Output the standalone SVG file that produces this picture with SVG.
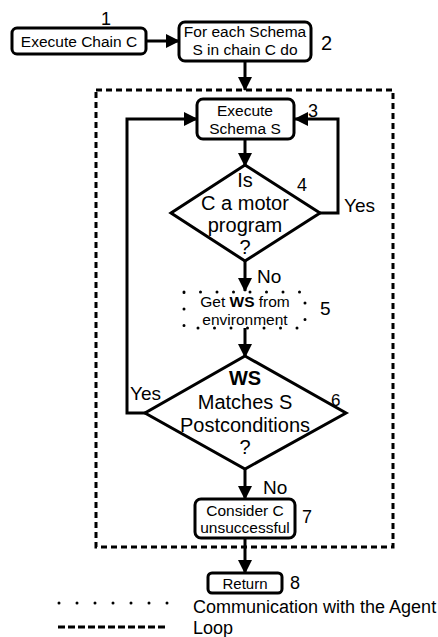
<svg xmlns="http://www.w3.org/2000/svg" width="438" height="637" viewBox="0 0 438 637">
  <defs>
    <marker id="arrow" markerUnits="userSpaceOnUse" markerWidth="14" markerHeight="14" viewBox="0 0 14 14" refX="13" refY="7" orient="auto">
      <path d="M0,0 L14,7 L0,14 Z" fill="#000"/>
    </marker>
    <style>
      text { font-family: "Liberation Sans", Arial, sans-serif; fill: #000; }
      .box { fill: #fff; stroke: #000; stroke-width: 3; }
      .dia { fill: #fff; stroke: #000; stroke-width: 3; stroke-linejoin: miter; }
      .edge { fill: none; stroke: #000; stroke-width: 3; }
      .arr { marker-end: url(#arrow); }
      .loop { fill: none; stroke: #000; stroke-width: 3; stroke-dasharray: 6 4; }
      .comm { fill: none; stroke: #000; stroke-width: 3; stroke-dasharray: 0 16.5; stroke-linecap: round; }
      .t15 { font-size: 15.5px; text-anchor: middle; }
      .t20 { font-size: 20px; text-anchor: middle; }
      .num { font-size: 18px; }
      .lbl { font-size: 19px; }
      .leg { font-size: 18px; }
    </style>
  </defs>

  <!-- loop region -->
  <rect id="loop-region" class="loop" x="96" y="90" width="297" height="457"/>

  <!-- connectors -->
  <g id="connectors">
    <line class="edge arr" x1="146" y1="41" x2="179" y2="41"/>
    <line class="edge arr" x1="245" y1="61" x2="245" y2="90"/>
    <line class="edge arr" x1="245" y1="139" x2="245" y2="166"/>
    <path class="edge arr" d="M320,213 H338 V119 H295"/>
    <line class="edge arr" x1="245" y1="261" x2="245" y2="291"/>
    <line class="edge arr" x1="245" y1="328" x2="245" y2="357"/>
    <path class="edge arr" d="M146,413 H127 V119 H197"/>
    <line class="edge arr" x1="245" y1="469" x2="245" y2="499"/>
    <line class="edge arr" x1="245" y1="538" x2="245" y2="573"/>
    <text class="lbl" x="344" y="212">Yes</text>
    <text class="lbl" x="257" y="283">No</text>
    <text class="lbl" x="130" y="400">Yes</text>
    <text class="lbl" x="263" y="494">No</text>
  </g>

  <!-- 1: execute chain -->
  <g id="n1">
    <rect class="box" x="12" y="28" width="134" height="26" rx="5"/>
    <text class="t15" x="79" y="47">Execute Chain C</text>
    <text class="num" x="101" y="25">1</text>
  </g>

  <!-- 2: for each schema -->
  <g id="n2">
    <rect class="box" x="179" y="22" width="132" height="39" rx="6"/>
    <text class="t15" x="245" y="37">For each Schema</text>
    <text class="t15" x="245" y="55">S in chain C do</text>
    <text class="num" x="321" y="50" style="font-size:20px">2</text>
  </g>

  <!-- 3: execute schema -->
  <g id="n3">
    <rect class="box" x="197" y="99" width="97" height="40" rx="6"/>
    <text class="t15" x="245" y="116">Execute</text>
    <text class="t15" x="245" y="134">Schema S</text>
    <text class="num" x="308" y="117">3</text>
  </g>

  <!-- 4: motor program decision -->
  <g id="n4">
    <polygon class="dia" points="245,165 320,213 245,261 171,213"/>
    <text class="t20" x="245" y="187">Is</text>
    <text class="t20" x="245" y="210">C a motor</text>
    <text class="t20" x="245" y="232">program</text>
    <text class="t20" x="245" y="254">?</text>
    <text class="num" x="297" y="191">4</text>
  </g>

  <!-- 5: get WS from environment (agent communication) -->
  <g id="n5">
    <rect class="comm" x="184" y="292" width="121" height="36"/>
    <text class="t15" x="245" y="307">Get <tspan font-weight="bold">WS</tspan> from</text>
    <text class="t15" x="245" y="325">environment</text>
    <text class="num" x="320" y="315" style="font-size:19px">5</text>
  </g>

  <!-- 6: postconditions decision -->
  <g id="n6">
    <polygon class="dia" points="245,356 346,413 245,469 145,413"/>
    <text class="t20" x="245" y="385" font-weight="bold">WS</text>
    <text class="t20" x="245" y="409">Matches S</text>
    <text class="t20" x="245" y="432">Postconditions</text>
    <text class="t20" x="245" y="454">?</text>
    <text class="num" x="331" y="406" style="font-size:17px">6</text>
  </g>

  <!-- 7: consider unsuccessful -->
  <g id="n7">
    <rect class="box" x="195" y="499" width="100" height="39" rx="6"/>
    <text class="t15" x="245" y="516">Consider C</text>
    <text class="t15" x="245" y="533">unsuccessful</text>
    <text class="num" x="302" y="523">7</text>
  </g>

  <!-- 8: return -->
  <g id="n8">
    <rect class="box" x="208" y="573" width="74" height="20" rx="4"/>
    <text class="t15" x="245" y="589" style="font-size:15px">Return</text>
    <text class="num" x="290" y="589">8</text>
  </g>

  <!-- legend -->
  <g id="legend">
    <line class="comm" x1="59" y1="603" x2="169" y2="603" style="stroke-dasharray:0 18"/>
    <text class="leg" x="193" y="613">Communication with the Agent</text>
    <line class="loop" x1="58" y1="627" x2="168" y2="627" style="stroke-dasharray:7 3"/>
    <text class="leg" x="193" y="634">Loop</text>
  </g>
</svg>
